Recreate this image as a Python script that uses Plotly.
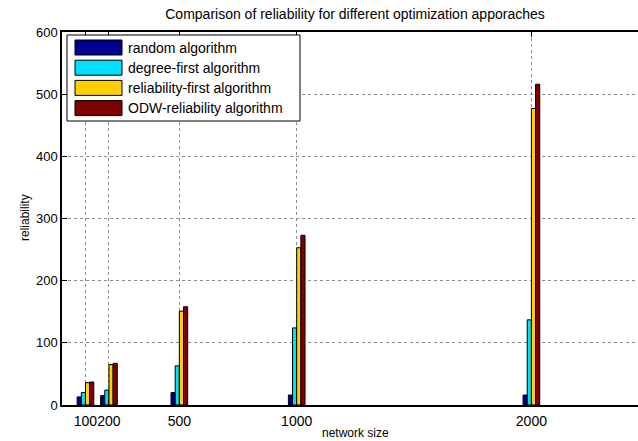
import plotly.graph_objects as go

# Network sizes tested and the reliability reached by each optimisation approach
network_sizes = [100, 200, 500, 1000, 2000]
series_names = [
    "random algorithm",
    "degree-first algorithm",
    "reliability-first algorithm",
    "ODW-reliability algorithm",
]
random_alg = [13, 15, 20, 16, 16]
degree_first = [20, 24, 63, 124, 137]
reliability_first = [36, 65, 151, 253, 477]
odw_reliability = [37, 67, 158, 273, 516]
series_values = [random_alg, degree_first, reliability_first, odw_reliability]
series_colors = ["#000090", "#00DFFF", "#FFCF00", "#800000"]

x_ticks = [100, 200, 500, 1000, 2000]
y_ticks = [0, 100, 200, 300, 400, 500, 600]

W, H = 638, 441
L, R, T, B = 62, 0, 32, 36
PW, PH = W - L - R, H - T - B
FONT = "Liberation Sans, Arial, sans-serif"


def px(xp):
    """pixel column -> paper x"""
    return (xp - L) / PW


def py(yp):
    """pixel row -> paper y"""
    return (H - B - yp) / PH


fig = go.Figure()
for name, vals, col in zip(series_names, series_values, series_colors):
    fig.add_trace(go.Bar(
        x=network_sizes, y=vals, name=name,
        marker=dict(color=col, line=dict(color="black", width=1)),
        showlegend=False,
    ))

# boxed legend with wide colour swatches
shapes = [dict(type="rect", xref="paper", yref="paper",
               x0=px(67), x1=px(300), y0=py(121), y1=py(35),
               fillcolor="white", line=dict(color="black", width=1), layer="above")]
annotations = []
for i, (name, col) in enumerate(zip(series_names, series_colors)):
    top = 40 + 20.2 * i
    shapes.append(dict(type="rect", xref="paper", yref="paper",
                       x0=px(75), x1=px(122), y0=py(top + 15), y1=py(top),
                       fillcolor=col, line=dict(color="black", width=1), layer="above"))
    annotations.append(dict(xref="paper", yref="paper", x=px(126), y=py(top + 7.5),
                            text=name, showarrow=False, xanchor="left", yanchor="middle",
                            font=dict(family=FONT, size=14, color="black")))

annotations.append(dict(xref="paper", yref="paper", x=px(355), y=py(433),
                        text="network size", showarrow=False,
                        xanchor="center", yanchor="middle",
                        font=dict(family=FONT, size=12, color="black")))
annotations.append(dict(xref="paper", yref="paper", x=px(25), y=py(218),
                        text="reliability", showarrow=False, textangle=-90,
                        xanchor="center", yanchor="middle",
                        font=dict(family=FONT, size=12, color="black")))

fig.update_layout(
    width=W, height=H,
    margin=dict(l=L, r=R, t=T, b=B),
    paper_bgcolor="white", plot_bgcolor="white",
    barmode="group", bargap=0.29, bargroupgap=0,
    font=dict(family=FONT, size=13, color="black"),
    title=dict(text="Comparison of reliability for different optimization apporaches",
               x=355 / W, xref="container", xanchor="center",
               y=1 - 14 / H, yref="container", yanchor="middle",
               font=dict(family=FONT, size=14, color="black")),
    shapes=shapes, annotations=annotations,
    xaxis=dict(range=[0, PW / 0.2347], tickvals=x_ticks, ticktext=[str(v) for v in x_ticks],
               tickangle=0, ticklabelstandoff=2,
               ticks="inside", ticklen=5, tickcolor="black", mirror="ticks",
               showline=True, linecolor="black", linewidth=1.5,
               showgrid=True, gridcolor="#8c8c8c", griddash="dot", gridwidth=1,
               zeroline=False, tickfont=dict(size=14)),
    yaxis=dict(range=[0, 600], tickvals=y_ticks,
               ticks="inside", ticklen=5, tickcolor="black",
               showline=True, linecolor="black", linewidth=1.5,
               showgrid=True, gridcolor="#8c8c8c", griddash="dot", gridwidth=1,
               zeroline=False, tickfont=dict(size=13)),
)

fig.write_html("out.html")
